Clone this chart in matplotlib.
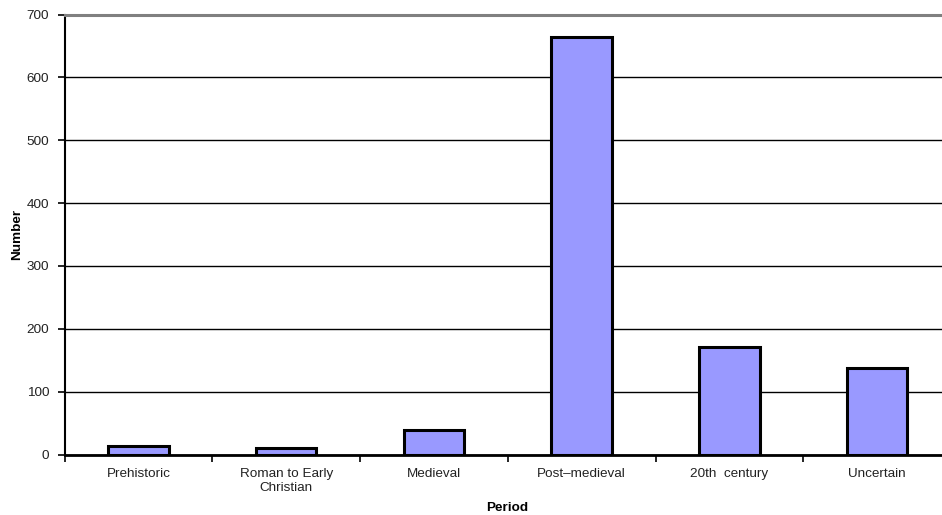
import matplotlib
matplotlib.use("Agg")
import matplotlib.pyplot as plt
import numpy as np

categories = ["Prehistoric", "Roman to Early\nChristian", "Medieval",
              "Post\u2013medieval", "20th  century", "Uncertain"]
values = [13, 10, 39, 665, 171, 137]
yticks = [0, 100, 200, 300, 400, 500, 600, 700]

plt.rcParams['font.family'] = ['Liberation Sans', 'DejaVu Sans']

W, H = 942, 515
fig = plt.figure(figsize=(W / 100, H / 100), dpi=100)
left, right = 64.5 / W, 951 / W
bottom, top = (H - 454.5) / H, (H - 14.5) / H
ax = fig.add_axes([left, bottom, right - left, top - bottom])

x = np.arange(len(categories))
ax.bar(x, values, width=0.41, color="#9999FF", edgecolor="black",
       linewidth=2.2, zorder=3)

ax.set_xlim(-0.5, len(categories) - 0.5)
ax.set_ylim(0, 700)
ax.set_yticks(yticks)
ax.set_yticklabels([str(v) for v in yticks], fontsize=9.7, color="#222222")
ax.yaxis.grid(True, color="black", linewidth=1.0, zorder=0)
ax.set_axisbelow(True)

# x ticks at category boundaries, labels at centers
ax.set_xticks(np.arange(len(categories) + 1) - 0.5)
ax.set_xticklabels([])
ax.set_xticks(x, minor=True)
ax.set_xticklabels(categories, minor=True, fontsize=9.7, color="#222222")
ax.tick_params(axis="x", which="minor", length=0, pad=10)
ax.tick_params(axis="x", which="major", length=5, width=1.2, color="black")
ax.tick_params(axis="y", length=5, width=1.2, color="black", pad=6)

for s in ["left", "bottom"]:
    ax.spines[s].set_color("black")
    ax.spines[s].set_linewidth(1.5)
ax.spines["bottom"].set_linewidth(2)
for s in ["top", "right"]:
    ax.spines[s].set_color("#808080")
    ax.spines[s].set_linewidth(2.2)

fig.text(17 / W, 1 - 234 / H, "Number", rotation=90, fontsize=9.7,
         fontweight="bold", ha="center", va="center")
fig.text(507 / W, 1 - 508 / H, "Period", fontsize=9.7,
         fontweight="bold", ha="center", va="center")

fig.savefig("out.png", dpi=100)
